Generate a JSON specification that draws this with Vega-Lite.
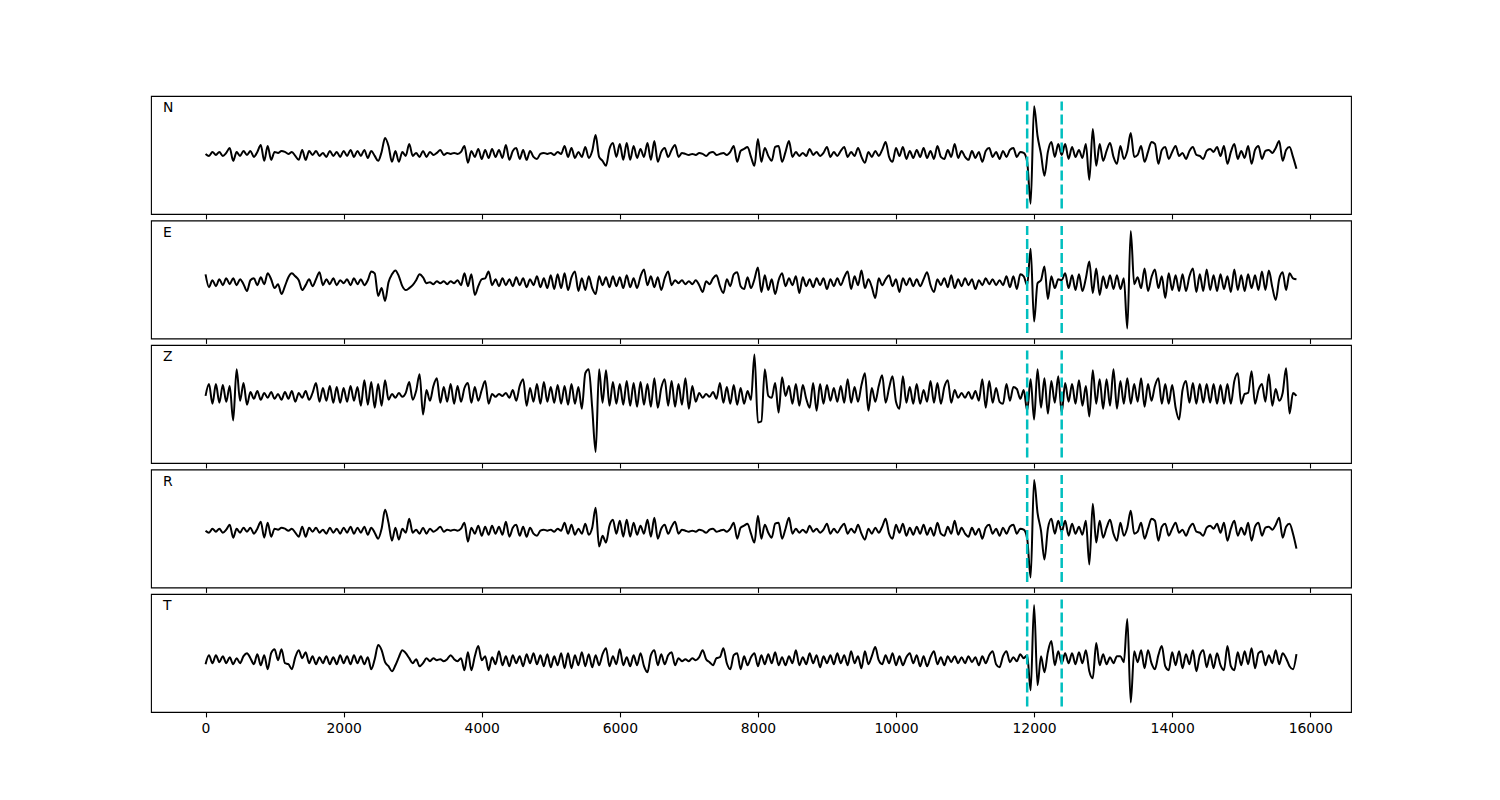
{
"$schema":"https://vega.github.io/schema/vega-lite/v6.json",
"padding":{"left":150,"top":95,"right":150,"bottom":30},
"background":"white",
"spacing":6.5,
"bounds":"flush",
"config":{"view":{"stroke":"black","strokeWidth":1.1},"font":"DejaVu Sans",
"title":{"anchor":"start","offset":0,"dx":12,"dy":23,"baseline":"alphabetic","fontSize":13.9,"fontWeight":"normal","font":"DejaVu Sans","color":"black"},
"axisX":{"domain":false,"grid":false,"tickColor":"black","tickSize":4.9,"tickWidth":1.1,"labelFont":"DejaVu Sans","labelFontSize":13.9,"labelColor":"black","labelPadding":5}},
"datasets":{
"picks":[{"c":"N","t":11900,"lo":-55,"hi":52.8},{"c":"N","t":12400,"lo":-55,"hi":52.8},
{"c":"E","t":11900,"lo":-51.7,"hi":57.2},{"c":"E","t":12400,"lo":-51.7,"hi":57.2},
{"c":"Z","t":11900,"lo":-62.7,"hi":46.2},{"c":"Z","t":12400,"lo":-62.7,"hi":46.2},
{"c":"R","t":11900,"lo":-51.7,"hi":56.1},{"c":"R","t":12400,"lo":-51.7,"hi":56.1},
{"c":"T","t":11900,"lo":-46.2,"hi":60.5},{"c":"T","t":12400,"lo":-46.2,"hi":60.5}],
"wave":[
{"t":0,"N":0,"E":8,"Z":0,"R":0,"T":-4},
{"t":50,"N":-2,"E":-5,"Z":12,"R":-2,"T":5},
{"t":100,"N":2,"E":2,"Z":-8,"R":2,"T":-3},
{"t":150,"N":-1,"E":-4,"Z":12,"R":-1,"T":5},
{"t":200,"N":2,"E":3,"Z":-7,"R":2,"T":-2},
{"t":250,"N":-2,"E":-3,"Z":11,"R":-2,"T":4},
{"t":300,"N":1,"E":4,"Z":-6,"R":1,"T":-3},
{"t":350,"N":6,"E":-2,"Z":10,"R":6,"T":3},
{"t":400,"N":-7,"E":4,"Z":-25,"R":-7,"T":-4},
{"t":450,"N":2,"E":-3,"Z":27,"R":2,"T":2},
{"t":500,"N":-2,"E":3,"Z":-5,"R":-2,"T":-3},
{"t":550,"N":3,"E":-2,"Z":13,"R":3,"T":4},
{"t":600,"N":-1,"E":-9,"Z":-9,"R":-1,"T":7},
{"t":650,"N":3,"E":2,"Z":4,"R":3,"T":2},
{"t":700,"N":-3,"E":4,"Z":-3,"R":-3,"T":-4},
{"t":750,"N":2,"E":-3,"Z":5,"R":2,"T":6},
{"t":800,"N":9,"E":5,"Z":-4,"R":9,"T":-5},
{"t":850,"N":-7,"E":-2,"Z":3,"R":-7,"T":5},
{"t":900,"N":8,"E":9,"Z":-2,"R":8,"T":-9},
{"t":950,"N":-6,"E":3,"Z":4,"R":-6,"T":7},
{"t":1000,"N":2,"E":-6,"Z":-3,"R":2,"T":11},
{"t":1050,"N":1,"E":-2,"Z":2,"R":1,"T":0},
{"t":1100,"N":3,"E":-12,"Z":-4,"R":3,"T":11},
{"t":1150,"N":2,"E":-4,"Z":4,"R":2,"T":-3},
{"t":1200,"N":0,"E":5,"Z":-3,"R":0,"T":-4},
{"t":1250,"N":2,"E":9,"Z":5,"R":2,"T":-9},
{"t":1300,"N":-2,"E":6,"Z":-6,"R":-2,"T":3},
{"t":1350,"N":-6,"E":2,"Z":3,"R":-6,"T":10},
{"t":1400,"N":4,"E":-8,"Z":-2,"R":4,"T":2},
{"t":1450,"N":-6,"E":-3,"Z":5,"R":-6,"T":8},
{"t":1500,"N":3,"E":3,"Z":-4,"R":3,"T":-3},
{"t":1550,"N":-1,"E":-4,"Z":3,"R":-1,"T":4},
{"t":1600,"N":3,"E":3,"Z":13,"R":3,"T":-4},
{"t":1650,"N":-2,"E":10,"Z":-6,"R":-2,"T":3},
{"t":1700,"N":1,"E":-3,"Z":8,"R":1,"T":-3},
{"t":1750,"N":-3,"E":3,"Z":-5,"R":-3,"T":4},
{"t":1800,"N":3,"E":-2,"Z":10,"R":3,"T":-4},
{"t":1850,"N":-2,"E":4,"Z":-7,"R":-2,"T":3},
{"t":1900,"N":2,"E":-3,"Z":9,"R":2,"T":-4},
{"t":1950,"N":-3,"E":2,"Z":-7,"R":-3,"T":5},
{"t":2000,"N":3,"E":-1,"Z":8,"R":3,"T":-3},
{"t":2050,"N":-2,"E":3,"Z":-6,"R":-2,"T":4},
{"t":2100,"N":4,"E":-3,"Z":10,"R":4,"T":-4},
{"t":2150,"N":-3,"E":4,"Z":-5,"R":-3,"T":5},
{"t":2200,"N":3,"E":-2,"Z":9,"R":3,"T":-3},
{"t":2250,"N":-2,"E":3,"Z":-10,"R":-2,"T":4},
{"t":2300,"N":4,"E":-3,"Z":16,"R":4,"T":-4},
{"t":2350,"N":-4,"E":2,"Z":-9,"R":-4,"T":3},
{"t":2400,"N":3,"E":11,"Z":14,"R":3,"T":-9},
{"t":2450,"N":-2,"E":9,"Z":-12,"R":-2,"T":1},
{"t":2500,"N":-7,"E":-14,"Z":12,"R":-8,"T":15},
{"t":2550,"N":2,"E":-6,"Z":-10,"R":2,"T":10},
{"t":2600,"N":16,"E":-19,"Z":16,"R":21,"T":-2},
{"t":2650,"N":8,"E":0,"Z":-4,"R":8,"T":-6},
{"t":2700,"N":-8,"E":8,"Z":2,"R":-10,"T":-11},
{"t":2750,"N":3,"E":12,"Z":-2,"R":3,"T":-5},
{"t":2800,"N":-8,"E":6,"Z":3,"R":-9,"T":3},
{"t":2850,"N":2,"E":-4,"Z":-1,"R":2,"T":10},
{"t":2900,"N":-2,"E":-8,"Z":3,"R":-2,"T":7},
{"t":2950,"N":10,"E":-6,"Z":14,"R":12,"T":2},
{"t":3000,"N":-2,"E":-3,"Z":-4,"R":-2,"T":-3},
{"t":3050,"N":1,"E":2,"Z":5,"R":1,"T":1},
{"t":3100,"N":-3,"E":8,"Z":22,"R":-3,"T":-6},
{"t":3150,"N":3,"E":5,"Z":-19,"R":3,"T":-3},
{"t":3200,"N":-3,"E":-1,"Z":6,"R":-3,"T":2},
{"t":3250,"N":2,"E":0,"Z":-5,"R":2,"T":-1},
{"t":3300,"N":-1,"E":-2,"Z":10,"R":-1,"T":2},
{"t":3350,"N":1,"E":1,"Z":18,"R":1,"T":0},
{"t":3400,"N":4,"E":-1,"Z":-7,"R":4,"T":1},
{"t":3450,"N":-1,"E":1,"Z":9,"R":-1,"T":-1},
{"t":3500,"N":1,"E":-2,"Z":-6,"R":1,"T":1},
{"t":3550,"N":0,"E":1,"Z":12,"R":0,"T":5},
{"t":3600,"N":1,"E":-1,"Z":-8,"R":1,"T":1},
{"t":3650,"N":0,"E":2,"Z":10,"R":0,"T":-1},
{"t":3700,"N":2,"E":-3,"Z":-6,"R":2,"T":2},
{"t":3750,"N":8,"E":9,"Z":8,"R":8,"T":-10},
{"t":3800,"N":-9,"E":-4,"Z":13,"R":-11,"T":8},
{"t":3850,"N":3,"E":8,"Z":-7,"R":3,"T":-10},
{"t":3900,"N":-3,"E":-13,"Z":9,"R":-3,"T":4},
{"t":3950,"N":5,"E":-4,"Z":-5,"R":5,"T":14},
{"t":4000,"N":-5,"E":3,"Z":6,"R":-5,"T":0},
{"t":4050,"N":4,"E":4,"Z":15,"R":4,"T":4},
{"t":4100,"N":-4,"E":11,"Z":-8,"R":-4,"T":-10},
{"t":4150,"N":5,"E":-3,"Z":2,"R":5,"T":3},
{"t":4200,"N":-3,"E":3,"Z":-1,"R":-3,"T":-4},
{"t":4250,"N":4,"E":-4,"Z":2,"R":4,"T":9},
{"t":4300,"N":-4,"E":4,"Z":0,"R":-4,"T":-5},
{"t":4350,"N":9,"E":-3,"Z":3,"R":9,"T":4},
{"t":4400,"N":-6,"E":3,"Z":-2,"R":-6,"T":-6},
{"t":4450,"N":3,"E":-4,"Z":6,"R":3,"T":5},
{"t":4500,"N":6,"E":5,"Z":-5,"R":6,"T":-3},
{"t":4550,"N":-5,"E":-3,"Z":10,"R":-5,"T":4},
{"t":4600,"N":4,"E":4,"Z":17,"R":4,"T":-6},
{"t":4650,"N":-6,"E":-5,"Z":-10,"R":-6,"T":6},
{"t":4700,"N":3,"E":3,"Z":8,"R":3,"T":-3},
{"t":4750,"N":-3,"E":-3,"Z":-6,"R":-3,"T":7},
{"t":4800,"N":-5,"E":6,"Z":12,"R":-5,"T":-4},
{"t":4850,"N":0,"E":-5,"Z":-8,"R":0,"T":5},
{"t":4900,"N":1,"E":4,"Z":14,"R":1,"T":-6},
{"t":4950,"N":0,"E":-6,"Z":-6,"R":0,"T":6},
{"t":5000,"N":1,"E":7,"Z":9,"R":1,"T":-7},
{"t":5050,"N":-1,"E":-7,"Z":-7,"R":-1,"T":4},
{"t":5100,"N":2,"E":8,"Z":11,"R":2,"T":-5},
{"t":5150,"N":0,"E":-6,"Z":-8,"R":0,"T":7},
{"t":5200,"N":8,"E":9,"Z":10,"R":8,"T":-8},
{"t":5250,"N":-3,"E":-8,"Z":-9,"R":-3,"T":7},
{"t":5300,"N":6,"E":5,"Z":12,"R":6,"T":-8},
{"t":5350,"N":-4,"E":11,"Z":-8,"R":-4,"T":5},
{"t":5400,"N":2,"E":-9,"Z":9,"R":2,"T":-5},
{"t":5450,"N":-3,"E":4,"Z":-13,"R":-3,"T":8},
{"t":5500,"N":7,"E":-8,"Z":23,"R":7,"T":-6},
{"t":5550,"N":-4,"E":6,"Z":27,"R":-4,"T":6},
{"t":5600,"N":3,"E":-6,"Z":-12,"R":3,"T":-7},
{"t":5650,"N":19,"E":-12,"Z":-57,"R":23,"T":5},
{"t":5700,"N":-3,"E":6,"Z":27,"R":-16,"T":-5},
{"t":5750,"N":-7,"E":-3,"Z":-7,"R":-5,"T":6},
{"t":5800,"N":-12,"E":5,"Z":26,"R":-12,"T":12},
{"t":5850,"N":5,"E":-5,"Z":-10,"R":5,"T":-6},
{"t":5900,"N":11,"E":6,"Z":14,"R":11,"T":4},
{"t":5950,"N":-3,"E":-4,"Z":-8,"R":-3,"T":-4},
{"t":6000,"N":10,"E":5,"Z":12,"R":10,"T":11},
{"t":6050,"N":-6,"E":-6,"Z":-9,"R":-6,"T":-5},
{"t":6100,"N":11,"E":7,"Z":15,"R":11,"T":3},
{"t":6150,"N":-6,"E":-5,"Z":-10,"R":-6,"T":-6},
{"t":6200,"N":8,"E":4,"Z":13,"R":8,"T":5},
{"t":6250,"N":-4,"E":-6,"Z":-11,"R":-4,"T":-5},
{"t":6300,"N":5,"E":6,"Z":14,"R":5,"T":7},
{"t":6350,"N":-3,"E":13,"Z":-9,"R":-3,"T":-6},
{"t":6400,"N":11,"E":-3,"Z":12,"R":11,"T":-12},
{"t":6450,"N":-6,"E":6,"Z":-11,"R":-6,"T":5},
{"t":6500,"N":13,"E":-5,"Z":18,"R":13,"T":10},
{"t":6550,"N":-8,"E":5,"Z":-12,"R":-8,"T":-5},
{"t":6600,"N":2,"E":-8,"Z":8,"R":2,"T":6},
{"t":6650,"N":6,"E":4,"Z":17,"R":6,"T":-4},
{"t":6700,"N":-3,"E":11,"Z":-10,"R":-3,"T":5},
{"t":6750,"N":4,"E":-3,"Z":15,"R":4,"T":8},
{"t":6800,"N":9,"E":2,"Z":-11,"R":9,"T":-5},
{"t":6850,"N":-3,"E":-1,"Z":12,"R":-3,"T":2},
{"t":6900,"N":1,"E":2,"Z":-9,"R":1,"T":-1},
{"t":6950,"N":0,"E":-2,"Z":18,"R":0,"T":1},
{"t":7000,"N":-1,"E":1,"Z":-13,"R":-1,"T":-1},
{"t":7050,"N":0,"E":-2,"Z":10,"R":0,"T":2},
{"t":7100,"N":-1,"E":2,"Z":-6,"R":-1,"T":0},
{"t":7150,"N":1,"E":-3,"Z":3,"R":1,"T":3},
{"t":7200,"N":0,"E":-10,"Z":-2,"R":0,"T":10},
{"t":7250,"N":-2,"E":1,"Z":2,"R":-2,"T":1},
{"t":7300,"N":1,"E":-2,"Z":-1,"R":1,"T":-2},
{"t":7350,"N":2,"E":4,"Z":4,"R":2,"T":-5},
{"t":7400,"N":-1,"E":7,"Z":-3,"R":-1,"T":2},
{"t":7450,"N":0,"E":-4,"Z":13,"R":0,"T":3},
{"t":7500,"N":1,"E":-11,"Z":-7,"R":1,"T":12},
{"t":7550,"N":-1,"E":3,"Z":9,"R":-1,"T":-3},
{"t":7600,"N":2,"E":-4,"Z":-8,"R":2,"T":-9},
{"t":7650,"N":8,"E":8,"Z":11,"R":8,"T":5},
{"t":7700,"N":-8,"E":10,"Z":-9,"R":-8,"T":7},
{"t":7750,"N":3,"E":-4,"Z":8,"R":3,"T":-9},
{"t":7800,"N":5,"E":-7,"Z":-8,"R":5,"T":4},
{"t":7850,"N":7,"E":5,"Z":5,"R":7,"T":-5},
{"t":7900,"N":-3,"E":-6,"Z":-4,"R":-3,"T":3},
{"t":7950,"N":-12,"E":3,"Z":42,"R":-12,"T":7},
{"t":8000,"N":15,"E":15,"Z":-27,"R":15,"T":-6},
{"t":8050,"N":-8,"E":-10,"Z":-26,"R":-8,"T":5},
{"t":8100,"N":6,"E":7,"Z":27,"R":6,"T":-4},
{"t":8150,"N":-2,"E":-8,"Z":0,"R":-2,"T":6},
{"t":8200,"N":-7,"E":3,"Z":-2,"R":-7,"T":-3},
{"t":8250,"N":7,"E":-12,"Z":13,"R":7,"T":8},
{"t":8300,"N":8,"E":2,"Z":-17,"R":8,"T":-5},
{"t":8350,"N":-8,"E":9,"Z":19,"R":-8,"T":3},
{"t":8400,"N":2,"E":-4,"Z":0,"R":2,"T":-5},
{"t":8450,"N":13,"E":4,"Z":10,"R":13,"T":4},
{"t":8500,"N":-3,"E":-3,"Z":-8,"R":-3,"T":-3},
{"t":8550,"N":2,"E":6,"Z":12,"R":2,"T":10},
{"t":8600,"N":-2,"E":-11,"Z":-10,"R":-2,"T":-5},
{"t":8650,"N":1,"E":5,"Z":11,"R":1,"T":3},
{"t":8700,"N":-2,"E":-4,"Z":-3,"R":-2,"T":-4},
{"t":8750,"N":5,"E":3,"Z":-12,"R":5,"T":7},
{"t":8800,"N":-1,"E":-5,"Z":13,"R":-1,"T":-3},
{"t":8850,"N":2,"E":4,"Z":-15,"R":2,"T":5},
{"t":8900,"N":-2,"E":-3,"Z":12,"R":-2,"T":-7},
{"t":8950,"N":1,"E":4,"Z":-8,"R":1,"T":4},
{"t":9000,"N":7,"E":-7,"Z":11,"R":7,"T":-3},
{"t":9050,"N":-3,"E":3,"Z":-5,"R":-3,"T":5},
{"t":9100,"N":2,"E":-4,"Z":8,"R":2,"T":-4},
{"t":9150,"N":-2,"E":4,"Z":-6,"R":-2,"T":7},
{"t":9200,"N":3,"E":-3,"Z":10,"R":3,"T":-3},
{"t":9250,"N":7,"E":5,"Z":-7,"R":7,"T":5},
{"t":9300,"N":-3,"E":11,"Z":17,"R":-3,"T":-5},
{"t":9350,"N":2,"E":-7,"Z":-7,"R":2,"T":9},
{"t":9400,"N":-2,"E":6,"Z":9,"R":-2,"T":-3},
{"t":9450,"N":6,"E":-3,"Z":-6,"R":6,"T":4},
{"t":9500,"N":-3,"E":12,"Z":11,"R":-3,"T":-8},
{"t":9550,"N":-9,"E":-6,"Z":23,"R":-9,"T":9},
{"t":9600,"N":2,"E":3,"Z":-15,"R":2,"T":-4},
{"t":9650,"N":-3,"E":-5,"Z":8,"R":-3,"T":4},
{"t":9700,"N":3,"E":-16,"Z":-6,"R":3,"T":13},
{"t":9750,"N":-2,"E":4,"Z":10,"R":-2,"T":0},
{"t":9800,"N":4,"E":-3,"Z":21,"R":4,"T":-4},
{"t":9850,"N":12,"E":3,"Z":-7,"R":12,"T":5},
{"t":9900,"N":-3,"E":7,"Z":8,"R":-3,"T":-3},
{"t":9950,"N":-8,"E":-4,"Z":20,"R":-8,"T":7},
{"t":10000,"N":6,"E":3,"Z":-6,"R":6,"T":-5},
{"t":10050,"N":-2,"E":-10,"Z":-13,"R":-2,"T":4},
{"t":10100,"N":7,"E":4,"Z":20,"R":7,"T":-5},
{"t":10150,"N":-5,"E":-3,"Z":-7,"R":-5,"T":3},
{"t":10200,"N":3,"E":4,"Z":9,"R":3,"T":7},
{"t":10250,"N":-4,"E":-4,"Z":-8,"R":-4,"T":-3},
{"t":10300,"N":4,"E":3,"Z":12,"R":4,"T":5},
{"t":10350,"N":-3,"E":-4,"Z":-8,"R":-3,"T":-6},
{"t":10400,"N":6,"E":3,"Z":6,"R":6,"T":4},
{"t":10450,"N":-4,"E":10,"Z":-6,"R":-4,"T":-6},
{"t":10500,"N":3,"E":-3,"Z":15,"R":3,"T":3},
{"t":10550,"N":-5,"E":-10,"Z":-7,"R":-5,"T":9},
{"t":10600,"N":8,"E":3,"Z":13,"R":8,"T":-4},
{"t":10650,"N":-3,"E":-3,"Z":-8,"R":-3,"T":3},
{"t":10700,"N":-5,"E":4,"Z":9,"R":-5,"T":-5},
{"t":10750,"N":4,"E":-5,"Z":16,"R":4,"T":4},
{"t":10800,"N":-3,"E":7,"Z":-7,"R":-3,"T":-2},
{"t":10850,"N":10,"E":-6,"Z":6,"R":10,"T":4},
{"t":10900,"N":-4,"E":3,"Z":-2,"R":-4,"T":-3},
{"t":10950,"N":3,"E":-4,"Z":3,"R":3,"T":3},
{"t":11000,"N":-3,"E":4,"Z":-2,"R":-3,"T":-3},
{"t":11050,"N":-6,"E":-3,"Z":4,"R":-6,"T":4},
{"t":11100,"N":3,"E":3,"Z":-3,"R":3,"T":-2},
{"t":11150,"N":-4,"E":-7,"Z":5,"R":-4,"T":3},
{"t":11200,"N":2,"E":2,"Z":-5,"R":2,"T":-5},
{"t":11250,"N":-8,"E":-3,"Z":17,"R":-8,"T":4},
{"t":11300,"N":3,"E":4,"Z":-12,"R":3,"T":-3},
{"t":11350,"N":6,"E":-2,"Z":15,"R":6,"T":5},
{"t":11400,"N":-3,"E":3,"Z":-7,"R":-3,"T":9},
{"t":11450,"N":2,"E":-3,"Z":8,"R":2,"T":-4},
{"t":11500,"N":-5,"E":2,"Z":-6,"R":-5,"T":-7},
{"t":11550,"N":3,"E":-3,"Z":-8,"R":3,"T":4},
{"t":11600,"N":-3,"E":6,"Z":12,"R":-3,"T":9},
{"t":11650,"N":4,"E":-5,"Z":-5,"R":4,"T":-2},
{"t":11700,"N":6,"E":6,"Z":9,"R":6,"T":3},
{"t":11750,"N":-3,"E":-7,"Z":7,"R":-3,"T":-1},
{"t":11800,"N":2,"E":8,"Z":-3,"R":2,"T":6},
{"t":11850,"N":1,"E":6,"Z":6,"R":1,"T":2},
{"t":11900,"N":-8,"E":-3,"Z":-15,"R":-8,"T":5},
{"t":11950,"N":-50,"E":34,"Z":17,"R":-47,"T":-30},
{"t":12000,"N":48,"E":-40,"Z":-24,"R":51,"T":55},
{"t":12050,"N":18,"E":-1,"Z":27,"R":18,"T":-25},
{"t":12100,"N":0,"E":2,"Z":-12,"R":0,"T":4},
{"t":12150,"N":-22,"E":16,"Z":18,"R":-29,"T":-12},
{"t":12200,"N":2,"E":-17,"Z":-18,"R":2,"T":8},
{"t":12250,"N":12,"E":6,"Z":15,"R":12,"T":19},
{"t":12300,"N":-3,"E":-6,"Z":-7,"R":-3,"T":-5},
{"t":12350,"N":10,"E":3,"Z":20,"R":10,"T":9},
{"t":12400,"N":-1,"E":2,"Z":-17,"R":-1,"T":-3},
{"t":12450,"N":10,"E":9,"Z":13,"R":10,"T":7},
{"t":12500,"N":-5,"E":-6,"Z":-6,"R":-5,"T":-3},
{"t":12550,"N":7,"E":7,"Z":12,"R":7,"T":7},
{"t":12600,"N":-3,"E":-8,"Z":-8,"R":-3,"T":-4},
{"t":12650,"N":4,"E":8,"Z":16,"R":4,"T":8},
{"t":12700,"N":-4,"E":-9,"Z":-10,"R":-4,"T":-3},
{"t":12750,"N":10,"E":4,"Z":10,"R":10,"T":10},
{"t":12800,"N":-26,"E":21,"Z":-21,"R":-34,"T":-11},
{"t":12850,"N":25,"E":-11,"Z":26,"R":27,"T":-18},
{"t":12900,"N":-12,"E":14,"Z":-8,"R":-12,"T":17},
{"t":12950,"N":10,"E":-13,"Z":17,"R":10,"T":-5},
{"t":13000,"N":-7,"E":6,"Z":-13,"R":-7,"T":6},
{"t":13050,"N":3,"E":-6,"Z":17,"R":3,"T":-4},
{"t":13100,"N":11,"E":7,"Z":-10,"R":11,"T":3},
{"t":13150,"N":-3,"E":-7,"Z":27,"R":-3,"T":-3},
{"t":13200,"N":-10,"E":7,"Z":-13,"R":-10,"T":4},
{"t":13250,"N":8,"E":-7,"Z":15,"R":8,"T":4},
{"t":13300,"N":-5,"E":4,"Z":-8,"R":-5,"T":-2},
{"t":13350,"N":3,"E":-47,"Z":18,"R":3,"T":41},
{"t":13400,"N":21,"E":52,"Z":-8,"R":20,"T":-42},
{"t":13450,"N":-3,"E":-2,"Z":12,"R":-3,"T":9},
{"t":13500,"N":-1,"E":5,"Z":-6,"R":-1,"T":-2},
{"t":13550,"N":8,"E":-6,"Z":18,"R":8,"T":10},
{"t":13600,"N":-8,"E":14,"Z":-11,"R":-8,"T":-8},
{"t":13650,"N":2,"E":-9,"Z":12,"R":2,"T":10},
{"t":13700,"N":12,"E":5,"Z":-5,"R":12,"T":-3},
{"t":13750,"N":10,"E":13,"Z":10,"R":10,"T":-9},
{"t":13800,"N":-10,"E":-6,"Z":18,"R":-10,"T":5},
{"t":13850,"N":4,"E":6,"Z":-8,"R":4,"T":14},
{"t":13900,"N":7,"E":-16,"Z":12,"R":7,"T":-6},
{"t":13950,"N":-5,"E":9,"Z":-8,"R":-5,"T":-10},
{"t":14000,"N":2,"E":-8,"Z":11,"R":2,"T":8},
{"t":14050,"N":8,"E":7,"Z":-12,"R":8,"T":-5},
{"t":14100,"N":-2,"E":-9,"Z":-24,"R":-2,"T":9},
{"t":14150,"N":1,"E":8,"Z":6,"R":1,"T":-8},
{"t":14200,"N":-5,"E":-9,"Z":15,"R":-5,"T":6},
{"t":14250,"N":3,"E":6,"Z":-7,"R":3,"T":-4},
{"t":14300,"N":7,"E":14,"Z":13,"R":7,"T":10},
{"t":14350,"N":-1,"E":-10,"Z":-8,"R":-1,"T":-11},
{"t":14400,"N":-2,"E":8,"Z":12,"R":-2,"T":5},
{"t":14450,"N":-5,"E":-9,"Z":-7,"R":-5,"T":10},
{"t":14500,"N":3,"E":13,"Z":12,"R":3,"T":-7},
{"t":14550,"N":5,"E":-8,"Z":-7,"R":5,"T":6},
{"t":14600,"N":2,"E":7,"Z":12,"R":2,"T":-8},
{"t":14650,"N":7,"E":-9,"Z":-8,"R":7,"T":7},
{"t":14700,"N":-2,"E":8,"Z":11,"R":-2,"T":-5},
{"t":14750,"N":8,"E":-7,"Z":-8,"R":8,"T":-10},
{"t":14800,"N":-10,"E":6,"Z":12,"R":-10,"T":14},
{"t":14850,"N":2,"E":-10,"Z":-8,"R":2,"T":-6},
{"t":14900,"N":10,"E":13,"Z":15,"R":10,"T":-10},
{"t":14950,"N":-5,"E":-8,"Z":23,"R":-5,"T":8},
{"t":15000,"N":3,"E":7,"Z":-8,"R":3,"T":-5},
{"t":15050,"N":-4,"E":-9,"Z":2,"R":-4,"T":9},
{"t":15100,"N":8,"E":8,"Z":3,"R":8,"T":-4},
{"t":15150,"N":-10,"E":-6,"Z":25,"R":-10,"T":12},
{"t":15200,"N":4,"E":7,"Z":-8,"R":4,"T":-8},
{"t":15250,"N":8,"E":-8,"Z":6,"R":8,"T":7},
{"t":15300,"N":-5,"E":11,"Z":12,"R":-5,"T":9},
{"t":15350,"N":3,"E":-8,"Z":-6,"R":3,"T":-5},
{"t":15400,"N":4,"E":12,"Z":22,"R":4,"T":5},
{"t":15450,"N":1,"E":-5,"Z":-10,"R":1,"T":-3},
{"t":15500,"N":6,"E":-18,"Z":7,"R":6,"T":10},
{"t":15550,"N":13,"E":3,"Z":-5,"R":13,"T":-4},
{"t":15600,"N":-7,"E":10,"Z":3,"R":-7,"T":7},
{"t":15650,"N":4,"E":-8,"Z":28,"R":4,"T":2},
{"t":15700,"N":7,"E":9,"Z":-18,"R":7,"T":-6},
{"t":15750,"N":-3,"E":4,"Z":3,"R":-3,"T":-9},
{"t":15800,"N":-15,"E":3,"Z":0,"R":-18,"T":6}
]},
"vconcat":[
{"width":1200,"height":118,
"title":{"text":"N"},
"encoding":{"x":{"field":"t","type":"quantitative","scale":{"domain":[-790,16590],"nice":false,"zero":false},"axis":{"values":[0,2000,4000,6000,8000,10000,12000,14000,16000],"labels":false,"title":null}}},
"layer":[
{"data":{"name":"wave"},"mark":{"type":"line","color":"black","strokeWidth":2,"interpolate":"monotone"},"encoding":{"y":{"field":"N","type":"quantitative","scale":{"zero":false,"nice":false,"padding":5.4},"axis":null}}},
{"data":{"name":"picks"},"transform":[{"filter":{"field":"c","equal":"N"}}],"mark":{"type":"rule","color":"#00bfbf","strokeWidth":2.5,"strokeDash":[10,4]},"encoding":{"y":{"field":"lo","type":"quantitative","axis":null},"y2":{"field":"hi"}}}
]},
{"width":1200,"height":118,
"title":{"text":"E"},
"encoding":{"x":{"field":"t","type":"quantitative","scale":{"domain":[-790,16590],"nice":false,"zero":false},"axis":{"values":[0,2000,4000,6000,8000,10000,12000,14000,16000],"labels":false,"title":null}}},
"layer":[
{"data":{"name":"wave"},"mark":{"type":"line","color":"black","strokeWidth":2,"interpolate":"monotone"},"encoding":{"y":{"field":"E","type":"quantitative","scale":{"zero":false,"nice":false,"padding":5.4},"axis":null}}},
{"data":{"name":"picks"},"transform":[{"filter":{"field":"c","equal":"E"}}],"mark":{"type":"rule","color":"#00bfbf","strokeWidth":2.5,"strokeDash":[10,4]},"encoding":{"y":{"field":"lo","type":"quantitative","axis":null},"y2":{"field":"hi"}}}
]},
{"width":1200,"height":118,
"title":{"text":"Z"},
"encoding":{"x":{"field":"t","type":"quantitative","scale":{"domain":[-790,16590],"nice":false,"zero":false},"axis":{"values":[0,2000,4000,6000,8000,10000,12000,14000,16000],"labels":false,"title":null}}},
"layer":[
{"data":{"name":"wave"},"mark":{"type":"line","color":"black","strokeWidth":2,"interpolate":"monotone"},"encoding":{"y":{"field":"Z","type":"quantitative","scale":{"zero":false,"nice":false,"padding":5.4},"axis":null}}},
{"data":{"name":"picks"},"transform":[{"filter":{"field":"c","equal":"Z"}}],"mark":{"type":"rule","color":"#00bfbf","strokeWidth":2.5,"strokeDash":[10,4]},"encoding":{"y":{"field":"lo","type":"quantitative","axis":null},"y2":{"field":"hi"}}}
]},
{"width":1200,"height":118,
"title":{"text":"R"},
"encoding":{"x":{"field":"t","type":"quantitative","scale":{"domain":[-790,16590],"nice":false,"zero":false},"axis":{"values":[0,2000,4000,6000,8000,10000,12000,14000,16000],"labels":false,"title":null}}},
"layer":[
{"data":{"name":"wave"},"mark":{"type":"line","color":"black","strokeWidth":2,"interpolate":"monotone"},"encoding":{"y":{"field":"R","type":"quantitative","scale":{"zero":false,"nice":false,"padding":5.4},"axis":null}}},
{"data":{"name":"picks"},"transform":[{"filter":{"field":"c","equal":"R"}}],"mark":{"type":"rule","color":"#00bfbf","strokeWidth":2.5,"strokeDash":[10,4]},"encoding":{"y":{"field":"lo","type":"quantitative","axis":null},"y2":{"field":"hi"}}}
]},
{"width":1200,"height":118,
"title":{"text":"T"},
"encoding":{"x":{"field":"t","type":"quantitative","scale":{"domain":[-790,16590],"nice":false,"zero":false},"axis":{"values":[0,2000,4000,6000,8000,10000,12000,14000,16000],"format":"d","labels":true,"title":null}}},
"layer":[
{"data":{"name":"wave"},"mark":{"type":"line","color":"black","strokeWidth":2,"interpolate":"monotone"},"encoding":{"y":{"field":"T","type":"quantitative","scale":{"zero":false,"nice":false,"padding":5.4},"axis":null}}},
{"data":{"name":"picks"},"transform":[{"filter":{"field":"c","equal":"T"}}],"mark":{"type":"rule","color":"#00bfbf","strokeWidth":2.5,"strokeDash":[10,4]},"encoding":{"y":{"field":"lo","type":"quantitative","axis":null},"y2":{"field":"hi"}}}
]}
]
}
